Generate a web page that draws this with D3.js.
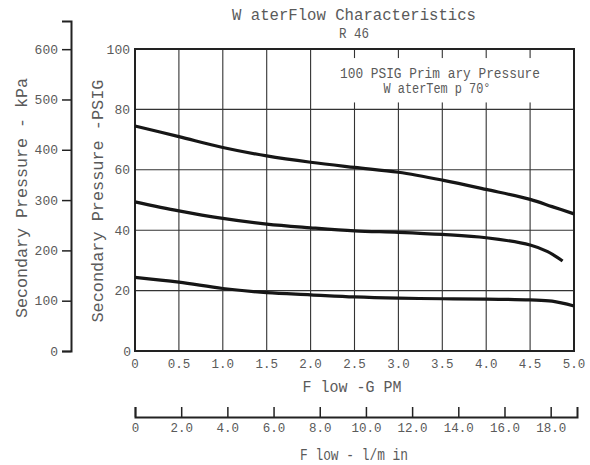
<!DOCTYPE html>
<html><head><meta charset="utf-8">
<script src="https://cdn.jsdelivr.net/npm/d3@7"></script>
<style>
html,body{margin:0;padding:0;background:#fff;}
text{font-family:"Liberation Mono","DejaVu Sans Mono",monospace;fill:#5a5a5a;}
</style></head>
<body>
<svg id="chart" width="590" height="465"></svg>
<script>
// ---- data ----
const flowGPM = [0, 0.5, 1.0, 1.5, 2.0, 2.5, 3.0, 3.5, 4.0, 4.5, 4.75, 5.0];
const curveHigh = [74.5, 71.0, 67.4, 64.6, 62.5, 60.8, 59.2, 56.6, 53.5, 50.2, 47.8, 45.4];
const flowMid = [0, 0.5, 1.0, 1.5, 2.0, 2.5, 3.0, 3.5, 4.0, 4.5, 4.7, 4.87];
const curveMid = [49.4, 46.4, 43.9, 42.0, 40.8, 39.8, 39.3, 38.6, 37.5, 35.1, 32.9, 29.8];
const curveLow = [24.4, 22.8, 20.7, 19.3, 18.6, 17.9, 17.5, 17.3, 17.2, 16.9, 16.5, 14.9];
const gpmTicks = [0, 0.5, 1.0, 1.5, 2.0, 2.5, 3.0, 3.5, 4.0, 4.5, 5.0];
const psiTicks = [0, 20, 40, 60, 80, 100];
const kpaTicks = [0, 100, 200, 300, 400, 500, 600];
const lminTicks = [0, 2, 4, 6, 8, 10, 12, 14, 16, 18];
const titleText = "W aterFlow Characteristics";
const subTitle = "R 46";
const noteLines = ["100 PSIG Prim ary Pressure", "W aterTem p 70°"];

const svg = d3.select("#chart");
const x = d3.scaleLinear().domain([0, 5]).range([135, 574]);
const y = d3.scaleLinear().domain([0, 100]).range([351, 49]);
const yK = d3.scaleLinear().domain([0, 656]).range([351, 21]);
const xL = d3.scaleLinear().domain([0, 19.14]).range([135, 577]);

// grid
const grid = svg.append("g");
grid.selectAll(".vg").data(gpmTicks.slice(1, -1)).enter().append("line")
  .attr("x1", d => x(d)).attr("x2", d => x(d)).attr("y1", y(0)).attr("y2", y(100))
  .attr("stroke", "#333").attr("stroke-width", 1.1);
grid.selectAll(".hg").data(psiTicks.slice(1, -1)).enter().append("line")
  .attr("x1", x(0)).attr("x2", x(5)).attr("y1", d => y(d)).attr("y2", d => y(d))
  .attr("stroke", "#333").attr("stroke-width", 1.1);

// annotation box (white) over grid
svg.append("rect").attr("x", x(2.15)).attr("y", y(97)).attr("width", x(4.93) - x(2.15)).attr("height", y(82.3) - y(97))
  .attr("fill", "#fff");
svg.append("text").attr("x", 440).attr("y", 78).attr("text-anchor", "middle")
  .attr("font-size", 14).attr("textLength", 200).attr("lengthAdjust", "spacingAndGlyphs").text(noteLines[0]);
svg.append("text").attr("x", 437).attr("y", 93).attr("text-anchor", "middle")
  .attr("font-size", 14).attr("textLength", 107).attr("lengthAdjust", "spacingAndGlyphs").text(noteLines[1]);

// frame
svg.append("rect").attr("x", x(0)).attr("y", y(100)).attr("width", x(5) - x(0)).attr("height", y(0) - y(100))
  .attr("fill", "none").attr("stroke", "#222").attr("stroke-width", 2);

// curves
const line = d3.line().x(d => x(d[0])).y(d => y(d[1])).curve(d3.curveCatmullRom.alpha(0.5));
const series = [
  d3.zip(flowGPM, curveHigh),
  d3.zip(flowMid, curveMid),
  d3.zip(flowGPM, curveLow)
];
svg.selectAll(".curve").data(series).enter().append("path")
  .attr("d", line).attr("fill", "none").attr("stroke", "#161616").attr("stroke-width", 3.2)
  .attr("stroke-linecap", "butt");

// PSI labels
svg.selectAll(".psil").data(psiTicks).enter().append("text")
  .attr("x", d => d === 0 ? 131 : 130).attr("y", d => y(d) + 4.5).attr("text-anchor", "end")
  .attr("font-size", 13).text(d => d);

// GPM labels
svg.selectAll(".gpml").data(gpmTicks).enter().append("text")
  .attr("x", d => x(d)).attr("y", 368).attr("text-anchor", "middle")
  .attr("font-size", 12.5).text(d => d === 0 ? "0" : d3.format(".1f")(d));

// kPa axis
const kAxis = d3.axisLeft(yK).tickValues(kpaTicks).tickSize(9).tickPadding(4).tickFormat(d => d);
const kg = svg.append("g").attr("transform", "translate(71,0)").call(kAxis);
kg.select(".domain").attr("stroke", "#222").attr("stroke-width", 2);
kg.selectAll(".tick line").attr("stroke", "#222").attr("stroke-width", 1.5);
kg.selectAll(".tick text").attr("font-size", 13).attr("fill", "#5a5a5a");
kg.attr("font-family", null).attr("font-size", null);

// l/min axis
const lAxis = d3.axisTop(xL).tickValues(lminTicks).tickSize(10).tickFormat(d => d === 0 ? "0" : d3.format(".1f")(d));
const lg = svg.append("g").attr("transform", "translate(0,417)").call(lAxis);
lg.select(".domain").attr("stroke", "#222").attr("stroke-width", 2);
lg.selectAll(".tick line").attr("stroke", "#222").attr("stroke-width", 1.5);
lg.selectAll(".tick text").attr("y", 15).attr("dy", null).attr("font-size", 12.5).attr("fill", "#5a5a5a");
lg.attr("font-family", null).attr("font-size", null);

// titles
svg.append("text").attr("x", 354).attr("y", 20).attr("text-anchor", "middle").attr("font-size", 16)
  .attr("textLength", 244).attr("lengthAdjust", "spacingAndGlyphs").text(titleText);
svg.append("text").attr("x", 354).attr("y", 38).attr("text-anchor", "middle").attr("font-size", 15)
  .attr("textLength", 30).attr("lengthAdjust", "spacingAndGlyphs").text(subTitle);
svg.append("text").attr("x", 352).attr("y", 392).attr("text-anchor", "middle").attr("font-size", 17)
  .attr("textLength", 99).attr("lengthAdjust", "spacingAndGlyphs").text("F low -G PM");
svg.append("text").attr("x", 354).attr("y", 460).attr("text-anchor", "middle").attr("font-size", 17)
  .attr("textLength", 108).attr("lengthAdjust", "spacingAndGlyphs").text("F low  - l/m in");
svg.append("text").attr("transform", "translate(103,201) rotate(-90)").attr("text-anchor", "middle")
  .attr("font-size", 16).attr("textLength", 243).attr("lengthAdjust", "spacingAndGlyphs")
  .text("Secondary Pressure -PSIG");
svg.append("text").attr("transform", "translate(27,198) rotate(-90)").attr("text-anchor", "middle")
  .attr("font-size", 16).attr("textLength", 240).attr("lengthAdjust", "spacingAndGlyphs")
  .text("Secondary Pressure - kPa");
</script>
</body></html>
